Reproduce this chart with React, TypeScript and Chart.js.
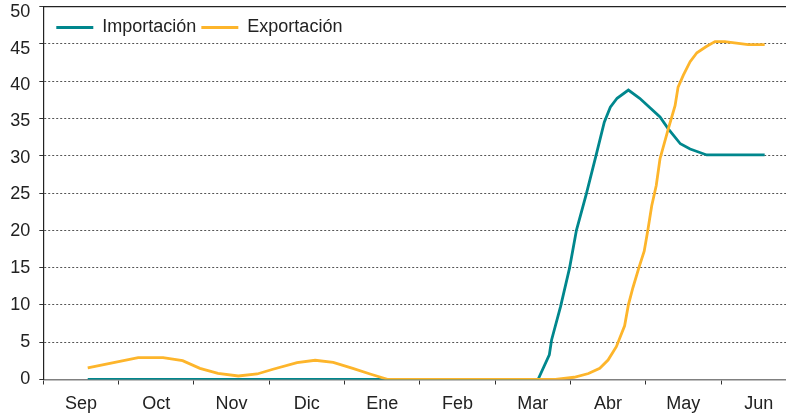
import React, { useEffect, useRef } from 'react';
import { Chart, registerables } from 'chart.js';

Chart.register(...registerables);

// Month categories (x axis)
const months = ['Sep', 'Oct', 'Nov', 'Dic', 'Ene', 'Feb', 'Mar', 'Abr', 'May', 'Jun'];

// Y axis range
const yMin = 0;
const yMax = 50;
const yStep = 5;

// Positions are in month units: 0 = start of Sep, 10 = end of Jun
const importX = [0.59, 6.57, 6.72, 6.75, 6.87, 6.99, 7.08, 7.21, 7.34, 7.45, 7.53, 7.62, 7.77, 7.92, 8.19, 8.30, 8.46, 8.59, 8.81, 9.58];
const importY = [0, 0, 3.3, 5.3, 9.8, 15, 20, 24.8, 30, 34.5, 36.5, 37.7, 38.8, 37.7, 35.2, 33.6, 31.6, 30.9, 30.1, 30.1];

const exportX = [0.59, 1.26, 1.59, 1.85, 2.08, 2.32, 2.59, 2.84, 3.05, 3.37, 3.61, 3.85, 4.11, 4.34, 4.58, 6.80, 7.05, 7.24, 7.39, 7.50, 7.61, 7.72, 7.77, 7.83, 7.91, 7.98, 8.03, 8.08, 8.14, 8.19, 8.30, 8.39, 8.43, 8.50, 8.59, 8.68, 8.80, 8.92, 9.05, 9.36, 9.58];
const exportY = [1.55, 2.93, 2.93, 2.53, 1.5, 0.83, 0.47, 0.74, 1.37, 2.26, 2.58, 2.3, 1.5, 0.74, 0, 0, 0.3, 0.8, 1.5, 2.6, 4.4, 7.2, 10, 12.3, 15, 17.2, 20.1, 23.3, 26, 29.6, 33.6, 36.7, 39.2, 40.8, 42.6, 43.8, 44.6, 45.3, 45.3, 44.9, 44.9];

const TEAL = '#00878d';
const ORANGE = '#fdb52b';
const FONT = "'Liberation Sans', Arial, Helvetica, sans-serif";
const TICK_SIZE = 18;

// small downward nudge of the upper y labels (px), as in the reference
const labelDrop = (v: any) => {
  if (v >= 50) return 5.5;
  if (v >= 45) return 5;
  if (v >= 40) return 3.5;
  if (v >= 35) return 2.5;
  if (v >= 30) return 2;
  if (v >= 25) return 1.5;
  if (v >= 20) return 1;
  return 0;
};

// Places the (horizontal) legend inside the plot area, top-left
const legendInside = {
  id: 'legendInside',
  beforeLayout(chart: any) {
    const l = chart.legend;
    if (l && !l.__patched) {
      const orig = l.fit;
      l.fit = function () {
        orig.call(this);
        this.height = 0;
      };
      l.__patched = true;
    }
  },
  afterLayout(chart: any) {
    const l = chart.legend;
    const ca = chart.chartArea;
    if (!l || !ca) return;
    const w = l.right - l.left;
    l.left = ca.left + 8;
    l.right = l.left + w;
    l.top = ca.top + 7;
    l.bottom = l.top + 30;
  },
};

export default function App() {
  const ref = useRef<HTMLCanvasElement>(null);

  useEffect(() => {
    if (!ref.current) return;
    const chart = new Chart(ref.current, {
      type: 'line',
      data: {
        labels: months,
        datasets: [
          {
            label: 'Importación',
            data: importX.map((x, i) => ({ x, y: importY[i] })),
            borderColor: TEAL,
            backgroundColor: TEAL,
            borderWidth: 2.8,
            pointRadius: 0,
            tension: 0,
            xAxisID: 'xl',
            order: 1,
          },
          {
            label: 'Exportación',
            data: exportX.map((x, i) => ({ x, y: exportY[i] })),
            borderColor: ORANGE,
            backgroundColor: ORANGE,
            borderWidth: 2.8,
            pointRadius: 0,
            tension: 0,
            xAxisID: 'xl',
            order: 0,
          },
        ],
      },
      options: {
        animation: false,
        responsive: false,
        layout: { padding: { top: 6.5, right: 13.7, bottom: 0, left: 0 } },
        plugins: {
          tooltip: { enabled: false },
          legend: {
            position: 'top',
            align: 'start',
            labels: {
              boxWidth: 37,
              boxHeight: 3,
              padding: 5,
              color: '#222',
              font: { family: FONT, size: 18 },
              sort: (a: any, b: any) => a.datasetIndex - b.datasetIndex,
              generateLabels: (c: any) =>
                (Chart.defaults.plugins.legend.labels as any)
                  .generateLabels(c)
                  .map((l: any) => ({ ...l, lineWidth: 0, fillStyle: l.strokeStyle })),
            },
          },
        },
        scales: {
          x: {
            type: 'category',
            position: 'bottom',
            offset: true,
            afterFit: (s: any) => { s.height = 35.5; },
            grid: {
              display: true,
              offset: true,
              drawOnChartArea: false,
              drawTicks: true,
              tickLength: 5,
              tickColor: '#333',
              tickWidth: 1,
            },
            border: { display: true, color: '#808080', width: 1.5 },
            ticks: {
              color: '#222',
              padding: 9,
              maxRotation: 0,
              autoSkip: false,
              font: { family: FONT, size: 18 },
            },
          },
          xl: {
            type: 'linear',
            position: 'top',
            min: 0,
            max: 10,
            afterFit: (s: any) => { s.height = 0; },
            grid: { display: false, drawTicks: false },
            border: { display: true, color: '#222', width: 1.2 },
            ticks: { display: false },
          },
          y: {
            type: 'linear',
            position: 'left',
            min: yMin,
            max: yMax,
            afterFit: (s: any) => {
              s.width = 43.3;
              s.paddingTop = 0;
              s.paddingBottom = 0;
            },
            grid: {
              color: (ctx: any) =>
                ctx.tick && (ctx.tick.value === yMin || ctx.tick.value === yMax) ? 'rgba(0,0,0,0)' : '#555',
              lineWidth: 1,
              tickLength: 4,
              tickColor: '#333',
              tickWidth: 1,
            },
            border: { display: true, color: '#222', width: 1.2, dash: [2, 2] },
            ticks: {
              stepSize: yStep,
              color: '#222',
              padding: 9,
              callback: (v: any) => (labelDrop(v) > 0 ? ['', String(v)] : String(v)),
              font: (ctx: any) => {
                const off = ctx && ctx.tick ? labelDrop(ctx.tick.value) : 0;
                return { family: FONT, size: TICK_SIZE, lineHeight: off > 0 ? (2 * off) / TICK_SIZE : 1.2 };
              },
            },
          },
        },
      } as any,
      plugins: [legendInside],
    });
    return () => chart.destroy();
  }, []);

  return (
    <div style={{ position: 'absolute', left: 0, top: 0, width: 786, height: 415, overflow: 'hidden' }}>
      <canvas ref={ref} width={810} height={415} style={{ width: 810, height: 415, display: 'block' }} />
    </div>
  );
}
